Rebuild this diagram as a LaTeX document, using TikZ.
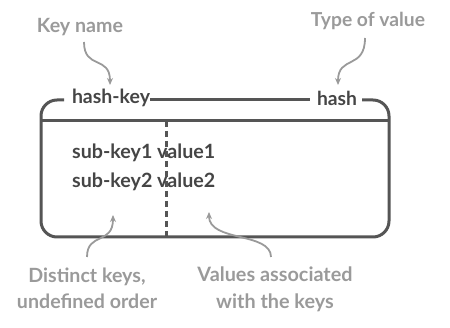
\documentclass[tikz,border=0pt]{standalone}
\usepackage{fontspec}
\usepackage{graphicx}
\setmainfont{Lato}
\usetikzlibrary{arrows.meta}
\definecolor{boxc}{HTML}{555555}
\definecolor{txtc}{HTML}{454545}
\definecolor{notec}{HTML}{9A9A9A}
\newcommand{\fitw}[2]{\resizebox{#1}{!}{#2}}
\newcommand{\twolines}[2]{\begin{tabular}{@{}c@{}}#1\\[2pt]#2\end{tabular}}
\begin{document}
\begin{tikzpicture}[x=1pt,y=-1pt,
  note/.style={text=notec,font=\bfseries\fontsize{18}{22}\selectfont,align=center,inner sep=0pt},
  body/.style={text=txtc,font=\bfseries\fontsize{18}{20}\selectfont,inner sep=0pt},
  boxline/.style={draw=boxc,line width=3pt},
  pointer/.style={draw=notec,line width=1.8pt,-{Stealth[length=7pt,width=6pt]}}]
\useasboundingbox (0,0) rectangle (450,328);
% annotations
\node[note] (keyname) at (80,27) {\fitw{86pt}{Key name}};
\node[note] (typeval) at (368,21) {\fitw{114pt}{Type of value}};
\node[note] (distinct) at (87,291) {\fitw{140pt}{\twolines{Distinct keys,}{undefined order}}};
\node[note] (values) at (275,290) {\fitw{155pt}{\twolines{Values associated}{with the keys}}};
% header texts
\node[body] (hashkey) at (111,98) {\fitw{78pt}{hash-key}};
\node[body] (hash) at (337,98) {\fitw{40pt}{hash}};
% rows
\node[body,anchor=west] (row1) at (72,153) {\fitw{143pt}{sub-key1 value1}};
\node[body,anchor=west] (row2) at (72,182) {\fitw{143pt}{sub-key2 value2}};
% box
\coordinate (tl) at (64,100);
\coordinate (tr) at (362,100);
\draw[boxline,rounded corners=16pt] (tl) -- (41,100) -- (41,237) -- (389,237) -- (389,100) -- (tr);
\coordinate (ml) at (150,100);
\coordinate (mr) at (310,100);
\draw[boxline] (ml) -- (mr);
\coordinate (sepl) at (41,121);
\coordinate (sepr) at (389,121);
\draw[boxline] (sepl) -- (sepr);
\coordinate (dtop) at (166,121);
\coordinate (dbot) at (166,237);
\draw[boxline,dash pattern=on 6pt off 4pt] (dtop) -- (dbot);
% pointers
\coordinate (k1) at (84,42);
\coordinate (k2) at (110,85);
\draw[pointer] (k1) .. controls (84,70) and (110,55) .. (k2);
\coordinate (t1) at (365,38);
\coordinate (t2) at (338,85);
\draw[pointer] (t1) .. controls (365,70) and (338,55) .. (t2);
\coordinate (d1) at (87,257);
\coordinate (d2) at (113,215);
\draw[pointer] (d1) .. controls (87,232) and (113,245) .. (d2);
\coordinate (v1) at (271,257);
\coordinate (v2) at (209,212);
\draw[pointer] (v1) .. controls (271,232) and (209,242) .. (v2);
\end{tikzpicture}
\end{document}
